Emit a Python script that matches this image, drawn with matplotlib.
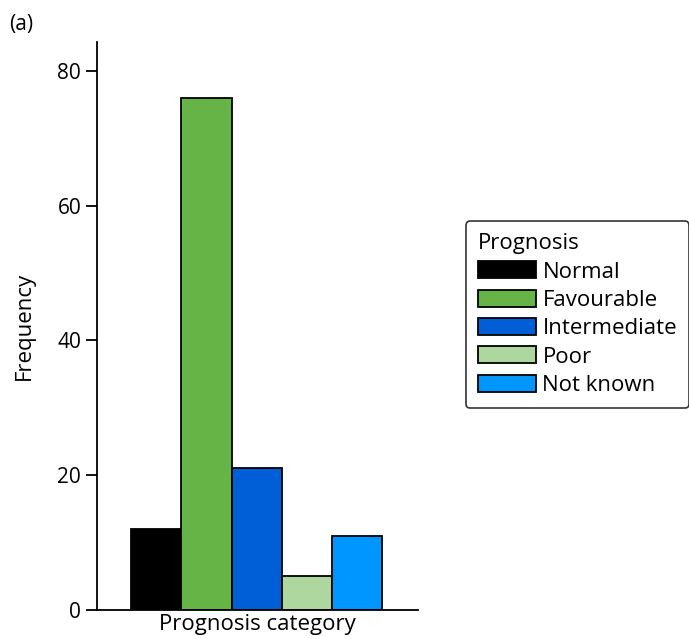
import numpy as np
import matplotlib.pyplot as plt

plt.rcParams['font.family'] = ['Open Sans', 'DejaVu Sans']

categories = ['Normal', 'Favourable', 'Intermediate', 'Poor', 'Not known']
freq = [12, 76, 21, 5, 11]
colors = ['#000000', '#66b446', '#005ed6', '#aed69f', '#0096ff']

fig = plt.figure(figsize=(6.89, 6.39), dpi=100)
ax = fig.add_axes([0.141, 0.0454, 0.466, 0.889])

index = np.arange(len(categories))
for i in index:
    ax.bar(index[i], freq[i], 1.0, color=colors[i], edgecolor='black',
           linewidth=1.3, label=categories[i])

ax.set_xlim(-1.18, 5.22)
ax.set_ylim(0, 84.3)
ax.set_yticks([0, 20, 40, 60, 80])
ax.set_xticks([])
ax.spines['top'].set_visible(False)
ax.spines['right'].set_visible(False)
ax.spines['left'].set_linewidth(1.3)
ax.spines['bottom'].set_linewidth(1.3)
ax.tick_params(axis='y', labelsize=15, length=8, width=1.3, pad=3.5)
ax.set_ylabel('Frequency', fontsize=16, labelpad=16)
ax.set_xlabel('Prognosis category', fontsize=16, labelpad=3)

fig.text(0.013, 0.962, '(a)', fontsize=15, va='center')

leg = ax.legend(title='Prognosis', loc='upper left', bbox_to_anchor=(0.676, 0.654),
                bbox_transform=fig.transFigure, borderaxespad=0,
                fontsize=16, title_fontsize=16,
                handlelength=2.6, handleheight=0.8, handletextpad=0.3,
                labelspacing=0.32, borderpad=0.55, frameon=True, fancybox=True,
                alignment='left')
leg.get_frame().set_edgecolor('black')
leg.get_frame().set_linewidth(1.2)

plt.savefig('out.png', dpi=100)
